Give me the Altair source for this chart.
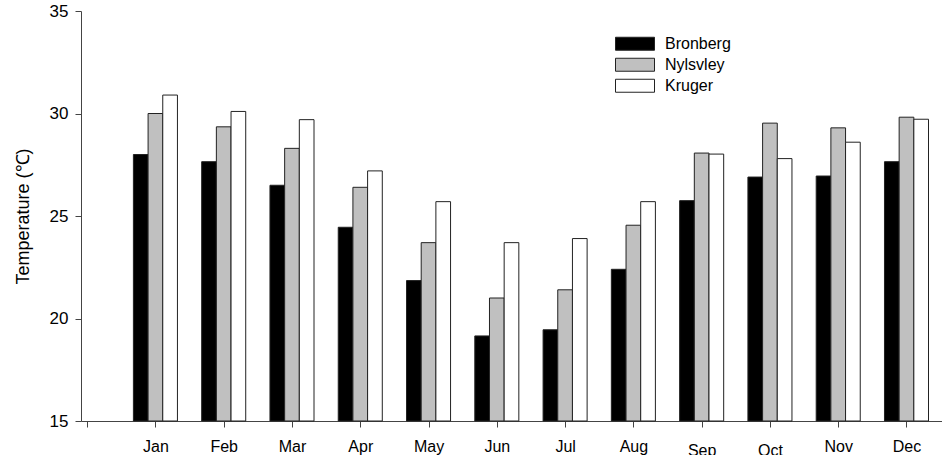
import altair as alt
import pandas as pd

# Monthly mean temperature (°C) at three sites
months = ["Jan", "Feb", "Mar", "Apr", "May", "Jun",
          "Jul", "Aug", "Sep", "Oct", "Nov", "Dec"]
sites = ["Bronberg", "Nylsvley", "Kruger"]
bronberg = [28.0, 27.65, 26.5, 24.45, 21.85, 19.15, 19.45, 22.4, 25.75, 26.9, 26.95, 27.65]
nylsvley = [30.0, 29.35, 28.3, 26.4, 23.7, 21.0, 21.4, 24.55, 28.07, 29.53, 29.3, 29.82]
kruger = [30.9, 30.1, 29.7, 27.2, 25.7, 23.7, 23.9, 25.7, 28.02, 27.8, 28.6, 29.72]
y_ticks = [15, 20, 25, 30, 35]

rows = []
for s_idx, (site, series) in enumerate(zip(sites, [bronberg, nylsvley, kruger])):
    for m_idx, temp in enumerate(series):
        rows.append({"month_num": m_idx + 1, "site": site,
                     "site_idx": s_idx, "temp": temp})
df = pd.DataFrame(rows)

BAR_W = 0.215
FONT = "Liberation Sans"
AXIS_GREY = "#444444"

month_lookup = "['', " + ", ".join(f"'{m}'" for m in months) + "]"

x_axis = alt.Axis(
    values=list(range(0, 13)),
    labelExpr=f"{month_lookup}[datum.value]",
    title=None,
    grid=False,
    tickSize=6,
    tickColor=AXIS_GREY,
    domainColor=AXIS_GREY,
    labelFont=FONT,
    labelFontSize=16,
    labelColor="black",
    # Sep and Oct labels sit a little lower than the rest
    labelPadding={"condition": {"test": "datum.value == 9 || datum.value == 10", "value": 15},
                  "value": 11},
    labelFlush=False,
    labelOverlap=False,
)

y_axis = alt.Axis(
    values=y_ticks,
    title="Temperature (℃)",
    titleFont=FONT,
    titleFontSize=18,
    titleFontWeight="normal",
    titleColor="black",
    titlePadding=17,
    grid=False,
    tickSize=6,
    tickColor=AXIS_GREY,
    domainColor=AXIS_GREY,
    labelFont=FONT,
    labelFontSize=17,
    labelColor="black",
    labelPadding=7,
)

legend = alt.Legend(
    title=None,
    orient="none",
    legendX=534,
    legendY=22.5,
    padding=0,
    rowPadding=0,
    clipHeight=20.5,
    symbolType="M-1,-0.333L1,-0.333L1,0.333L-1,0.333Z",
    symbolSize=1521,
    symbolStrokeColor="#222222",
    symbolStrokeWidth=1,
    symbolOpacity=1,
    labelFont=FONT,
    labelFontSize=16,
    labelColor="black",
    labelOffset=10,
)

chart = (
    alt.Chart(df)
    .transform_calculate(x0=f"datum.month_num + (datum.site_idx - 1.5) * {BAR_W}")
    .transform_calculate(x1=f"datum.x0 + {BAR_W}")
    .mark_bar(stroke="#222222", strokeWidth=1, opacity=1)
    .encode(
        x=alt.X("x0:Q", scale=alt.Scale(domain=[-0.09, 12.52], nice=False, zero=False),
                axis=x_axis),
        x2="x1:Q",
        y=alt.Y("temp:Q", scale=alt.Scale(domain=[15, 35], nice=False, zero=False),
                axis=y_axis),
        y2=alt.datum(15),
        color=alt.Color("site:N",
                        scale=alt.Scale(domain=sites, range=["#000000", "#c0c0c0", "#ffffff"]),
                        sort=sites, legend=legend),
    )
    .properties(
        width=861,
        height=410,
        autosize=alt.AutoSizeParams(type="none"),
        padding={"left": 81, "top": 11, "right": 0, "bottom": 34},
    )
    .configure(background="white", view=alt.ViewConfig(strokeWidth=0))
)

chart.save("out.html", embed_options={"renderer": "svg", "actions": False})
